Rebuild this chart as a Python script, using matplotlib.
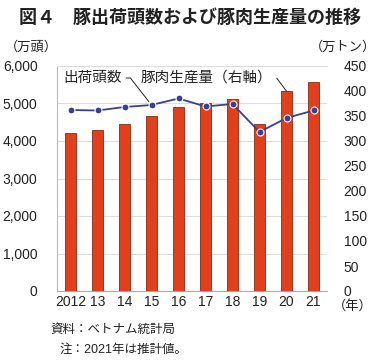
import numpy as np
import matplotlib.pyplot as plt

plt.rcParams['font.family'] = ['Liberation Sans', 'Noto Sans CJK JP', 'DejaVu Sans']

years = ['2012', '13', '14', '15', '16', '17', '18', '19', '20', '21']
heads = [4220, 4300, 4460, 4670, 4900, 5000, 5110, 4460, 5330, 5580]   # 万頭
pork = [362, 361, 368, 372, 385, 369, 374, 318, 346, 361]            # 万トン

fig = plt.figure(figsize=(3.8, 3.61), dpi=100)
ax = fig.add_axes([57/380, 1-291/361, 270/380, 225/361])
ax2 = ax.twinx()

x = np.arange(len(years))
ax.bar(x, heads, width=0.38, color='#e2401c', edgecolor='#8a2a14', linewidth=0.6, zorder=3)
ax.set_xlim(-0.5, 9.5)
ax.set_ylim(0, 6000)
ax.set_yticks(np.arange(0, 6001, 1000))
ax.set_yticklabels(['{:,}'.format(v) for v in range(0, 6001, 1000)])
ax.set_xticks(x)
ax.set_xticklabels(years)
ax.grid(axis='y', color='#dddddd', linewidth=0.8, zorder=0)
ax.set_axisbelow(True)

ax2.plot(x, pork, color='#3b3f8f', linewidth=1.3, marker='o', markersize=5,
         markerfacecolor='#3b3f8f', markeredgecolor='white', markeredgewidth=0.8, zorder=4)
ax2.set_ylim(0, 450)
ax2.set_yticks(np.arange(0, 451, 50))

for a in (ax, ax2):
    a.tick_params(length=0, labelsize=10, colors='#222222')
    for s in a.spines.values():
        s.set_visible(False)
ax.tick_params(axis='y', pad=14)
ax2.tick_params(axis='y', pad=12)
ax.tick_params(axis='x', pad=3)
ax.spines['left'].set_visible(True)
ax.spines['left'].set_color('#bbbbbb')
ax.spines['bottom'].set_visible(True)
ax.spines['bottom'].set_color('#aaaaaa')
ax.spines['top'].set_visible(True)
ax.spines['top'].set_color('#dddddd')

# leader labels
ax2.annotate('出荷頭数', xy=(3, pork[3]), xytext=(0.82, 426), fontsize=10.5,
             ha='center', va='center', color='#222222',
             arrowprops=dict(arrowstyle='-', color='#222222', lw=0.7,
                             connectionstyle='angle,angleA=0,angleB=128,rad=0',
                             shrinkA=1, shrinkB=3))
ax.annotate('豚肉生産量（右軸）', xy=(8, heads[8]), xytext=(5.05, 5680), fontsize=10.5,
            ha='center', va='center', color='#222222',
            arrowprops=dict(arrowstyle='-', color='#222222', lw=0.7,
                            connectionstyle='angle,angleA=0,angleB=127,rad=0',
                            shrinkA=1, shrinkB=0))

fig.text(0.5, 1-18/361, '図４　豚出荷頭数および豚肉生産量の推移', ha='center', va='center',
         fontsize=13, fontweight='bold', color='#222222')
fig.text(5/380, 1-47/361, '（万頭）', ha='left', va='center', fontsize=9.5, color='#222222')
fig.text(376/380, 1-47/361, '（万トン）', ha='right', va='center', fontsize=9.5, color='#222222')
fig.text(333/380, 1-306/361, '（年）', ha='left', va='center', fontsize=9.5, color='#222222')
fig.text(50/380, 1-330/361, '資料：ベトナム統計局', ha='left', va='center', fontsize=9, color='#222222')
fig.text(60/380, 1-350/361, '注：2021年は推計値。', ha='left', va='center', fontsize=9, color='#222222')

fig.savefig('out.png', dpi=100)
